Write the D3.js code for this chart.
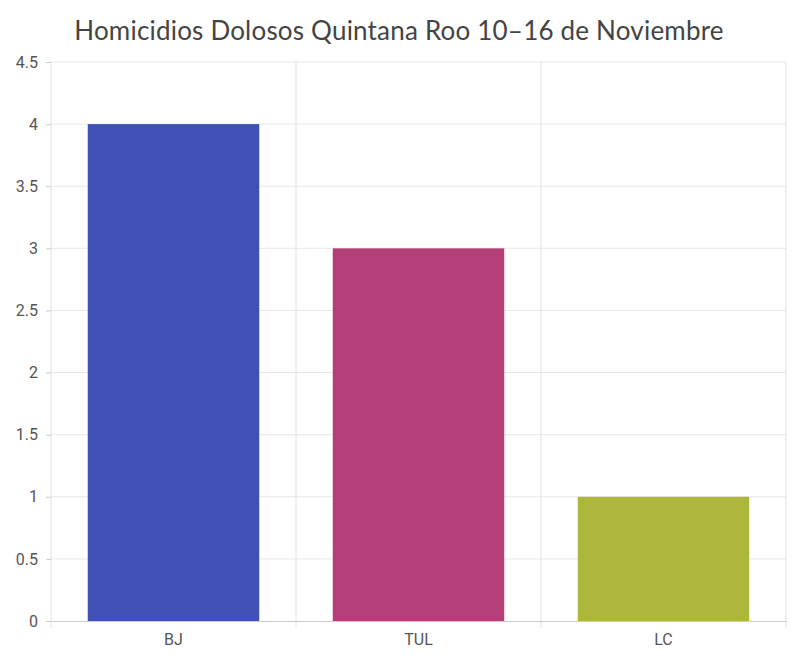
<!DOCTYPE html>
<html>
<head>
<meta charset="utf-8">
<script src="https://cdn.jsdelivr.net/npm/d3@7"></script>
<style>
  body { margin: 0; background: #fff; }
  text { font-family: Roboto, "Noto Sans", sans-serif; }
</style>
</head>
<body>
<div id="chart"></div>
<script>
var categories = ["BJ", "TUL", "LC"];
var values = [4, 3, 1];
var colors = ["#3F51B5", "#B33F78", "#ADB73E"];
var yTicks = [0, 0.5, 1, 1.5, 2, 2.5, 3, 3.5, 4, 4.5];
var title = "Homicidios Dolosos Quintana Roo 10–16 de Noviembre";

var width = 800;
var height = 667;
var margin = { top: 62, right: 14, bottom: 46, left: 51 };
var innerW = width - margin.left - margin.right;
var innerH = height - margin.top - margin.bottom;

var svg = d3.select("#chart").append("svg")
  .attr("width", width)
  .attr("height", height);

svg.append("text")
  .attr("x", 399)
  .attr("y", 40)
  .attr("text-anchor", "middle")
  .attr("fill", "#444")
  .style("font-family", "Lato, 'Open Sans', sans-serif")
  .style("font-size", "26px")
  .style("letter-spacing", "0.2px")
  .text(title);

var g = svg.append("g")
  .attr("transform", "translate(" + margin.left + "," + margin.top + ")");

var x = d3.scaleBand()
  .domain(categories)
  .range([0, innerW])
  .paddingInner(0.3)
  .paddingOuter(0.15);

var xBand = d3.scaleBand()
  .domain(categories)
  .range([0, innerW]);

var y = d3.scaleLinear()
  .domain([0, 4.5])
  .range([innerH, 0]);

// horizontal grid
g.selectAll(".hgrid")
  .data(yTicks.slice(1))
  .enter().append("line")
  .attr("x1", 0)
  .attr("x2", innerW)
  .attr("y1", function(d) { return y(d); })
  .attr("y2", function(d) { return y(d); })
  .attr("stroke", "#e8e8e8");

// vertical grid at category boundaries
var bounds = categories.map(function(c) { return xBand(c); }).concat([innerW]);
g.selectAll(".vgrid")
  .data(bounds)
  .enter().append("line")
  .attr("x1", function(d) { return d; })
  .attr("x2", function(d) { return d; })
  .attr("y1", 0)
  .attr("y2", innerH + 7)
  .attr("stroke", "#e2e2e2");

g.selectAll(".bar")
  .data(values)
  .enter().append("rect")
  .attr("x", function(d, i) { return x(categories[i]); })
  .attr("y", function(d) { return y(d); })
  .attr("width", x.bandwidth())
  .attr("height", function(d) { return innerH - y(d); })
  .attr("fill", function(d, i) { return colors[i]; });

// y axis
var yAxis = g.append("g")
  .call(d3.axisLeft(y).tickValues(yTicks).tickSize(5).tickPadding(8)
    .tickFormat(function(d) { return d3.format("")(d); }));
yAxis.select(".domain").remove();
yAxis.selectAll(".tick line").attr("stroke", "#ccc");
yAxis.selectAll(".tick text").attr("fill", "#555").style("font-size", "16px");

// x axis
var xAxis = g.append("g")
  .attr("transform", "translate(0," + innerH + ")")
  .call(d3.axisBottom(xBand).tickSize(0).tickPadding(13));
xAxis.select(".domain").attr("stroke", "#ccc");
xAxis.selectAll(".tick text").attr("fill", "#555").style("font-size", "16px");
</script>
</body>
</html>
